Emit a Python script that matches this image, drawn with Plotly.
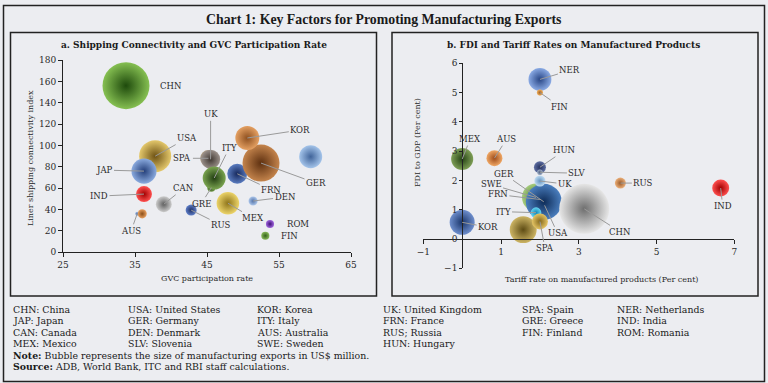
import plotly.graph_objects as go

W, H = 768, 383

# ---------------- Data: panel a (Shipping connectivity vs GVC participation) ----------------
a_codes = ["CHN", "USA", "JAP", "IND", "AUS", "", "CAN", "SPA", "UK", "GRE", "ITY",
           "FRN", "GER", "KOR", "NER", "DEN", "MEX", "RUS", "ROM", "FIN"]
a_gvc = [33.75, 37.8, 36.25, 36.25, 35.3, 36.0, 39.0, 45.2, 45.5, 45.6, 46.0,
         49.2, 52.5, 50.6, 59.4, 51.4, 47.9, 42.8, 53.75, 53.1]
a_lsci = [156, 90, 76, 54.5, 36, 36, 45, 88, 87, 60.5, 69.5,
          73.5, 83.5, 107, 89.5, 48, 46, 39.5, 26.5, 15.5]
a_exports = [2000000, 930000, 570000, 230000, 15000, 75000, 230000, 250000, 330000, 60000, 480000,
             360000, 1240000, 520000, 480000, 75000, 460000, 110000, 60000, 60000]

# ---------------- Data: panel b (FDI vs tariff) ----------------
b_codes = ["NER", "FIN", "MEX", "AUS", "HUN", "SLV", "SWE", "FRN", "USA", "GER", "UK",
           "ITY", "", "SPA", "KOR", "CHN", "RUS", "IND"]
b_tariff = [2.0, 2.0, 0.0, 0.83, 2.0, 2.0, 1.9, 2.0, 2.12, 2.1, 2.0,
            1.9, 1.57, 2.0, 0.0, 3.14, 4.07, 6.65]
b_fdi = [5.45, 5.0, 2.73, 2.76, 2.45, 2.28, 1.42, 1.35, 1.15, 1.27, 1.98,
         0.9, 0.32, 0.6, 0.57, 1.03, 1.91, 1.74]
b_exports = [420000, 30000, 390000, 205000, 115000, 25000, 630000, 300000, 330000, 1040000, 100000,
             90000, 580000, 205000, 500000, 2000000, 97000, 230000]

legend_cols = [
    ["CHN: China", "JAP: Japan", "CAN: Canada", "MEX: Mexico"],
    ["USA: United States", "GER: Germany", "DEN: Denmark", "SLV: Slovenia"],
    ["KOR: Korea", "ITY: Italy", "AUS: Australia", "SWE: Sweden"],
    ["UK: United Kingdom", "FRN: France", "RUS; Russia", "HUN: Hungary"],
    ["SPA: Spain", "GRE: Greece", "FIN: Finland"],
    ["NER: Netherlands", "IND: India", "ROM: Romania"],
]
note_text = "<b>Note:</b> Bubble represents the size of manufacturing exports in US$ million."
source_text = "<b>Source:</b> ADB, World Bank, ITC and RBI staff calculations."

# ---------------- Styles ----------------
# (center colour, edge colour) for sphere-like radial gradient
a_colors = [
    ("#86c052", "#1e4a0c"), ("#e4c86c", "#6e5214"), ("#8aaade", "#243f7a"), ("#ff5050", "#a00000"),
    ("#a8c0e6", "#4a6aa0"), ("#e8a060", "#8a4e18"), ("#cccccc", "#5e5e5e"), ("#b0a088", "#504030"),
    ("#9a908a", "#403832"), ("#70984a", "#244214"), ("#7aa450", "#223e12"), ("#5a7cc0", "#16285c"),
    ("#c4844c", "#5e3010"), ("#e4a062", "#8e5020"), ("#a4c4ea", "#40649a"), ("#acc6ea", "#5474aa"),
    ("#ecd46a", "#8e741a"), ("#5e7ec8", "#1e3066"), ("#a066dc", "#401078"), ("#88b85a", "#34621a"),
]
b_colors = [
    ("#8aaae4", "#284686"), ("#f0b060", "#a06020"), ("#7e9e56", "#244214"), ("#f0a866", "#9e4c1a"),
    ("#5e6ea2", "#24305e"), ("#a0b0c8", "#506080"), ("#a6cc7e", "#447224"), ("#5082c2", "#163670"),
    ("#447ab6", "#122f60"), ("#4a7ebe", "#0e2c58"), ("#c0dcf2", "#6494c2"),
    ("#66d4f0", "#1488b8"), ("#ccb464", "#5e4c14"), ("#e4c464", "#84681c"), ("#6e8ecc", "#18346a"),
    ("#e6e6e6", "#6e6e6e"), ("#ecb07a", "#9a5a2a"), ("#ff5050", "#a00000"),
]
# label offsets in pixels (dx, dy) and whether a leader line is drawn
a_labels = {
    "CHN": (45, 0, False), "USA": (32, -18, True), "JAP": (-40, -1, True), "IND": (-45, 2, True),
    "AUS": (-6, 17, True), "CAN": (20, -16, True), "SPA": (-26, 0, True), "UK": (0, -45, True),
    "GRE": (-10, 16, True), "ITY": (15, -30, True), "FRN": (34, 16, True), "GER": (55, 20, True),
    "KOR": (53, -8, True), "DEN": (32, -4, True), "MEX": (25, 15, True), "RUS": (30, 15, True),
    "ROM": (28, 0, False), "FIN": (24, 0, False),
}
b_labels = {
    "NER": (30, -9, True), "FIN": (20, 14, True), "MEX": (8, -20, True), "AUS": (12, -19, True),
    "HUN": (25, -17, True), "SLV": (37, 1, True), "UK": (25, 3, True), "SWE": (-45, -13, True),
    "GER": (-40, -28, True), "FRN": (-42, -5, True), "ITY": (-33, -1, True), "SPA": (5, 27, True),
    "KOR": (26, 5, True), "USA": (13, 28, True), "CHN": (36, 23, True), "RUS": (23, 0, True),
    "IND": (2, 18, True),
}

FONT = "DejaVu Serif"
BG = "#ECEDF1"
TXT = "#2a2a2a"


def px2x(px):
    return px / W


def px2y(py):
    return 1 - py / H


# axis domains from pixel layout
a_xdom = [px2x(63), px2x(351)]
a_ydom = [px2y(252.3), px2y(60)]
b_xdom = [px2x(423.3), px2x(734.3)]
b_ydom = [px2y(268.3), px2y(63.3)]
a_xr, a_yr = [25, 65], [0, 180]
b_xr, b_yr = [-1, 7], [-1, 6]

fig = go.Figure()


def add_bubbles(xs, ys, vals, colors, maxpx, xa, ya):
    sizeref = 2.0 * max(vals) / (maxpx ** 2)
    fig.add_trace(go.Scatter(
        x=xs, y=ys, mode="markers", xaxis=xa, yaxis=ya, hoverinfo="skip",
        marker=dict(
            size=vals, sizemode="area", sizeref=sizeref,
            color=[c[0] for c in colors],
            gradient=dict(type="radial", color=[c[1] for c in colors]),
            line=dict(width=0), opacity=1,
        ),
        showlegend=False,
    ))


add_bubbles(a_gvc, a_lsci, a_exports, a_colors, 47, "x", "y")
add_bubbles(b_tariff, b_fdi, b_exports, b_colors, 50, "x2", "y2")

annotations = []


def add_labels(codes, xs, ys, labels, xref, yref):
    for code, x, y in zip(codes, xs, ys):
        if code not in labels:
            continue
        dx, dy, line = labels[code]
        annotations.append(dict(
            x=x, y=y, xref=xref, yref=yref, text=code, showarrow=True,
            ax=dx, ay=dy, axref="pixel", ayref="pixel",
            arrowhead=0, arrowwidth=1, standoff=0, startstandoff=0,
            arrowcolor="#9a9a9a" if line else "rgba(0,0,0,0)",
            font=dict(family=FONT, size=8.5, color=TXT),
        ))


add_labels(a_codes, a_gvc, a_lsci, a_labels, "x", "y")
add_labels(b_codes, b_tariff, b_fdi, b_labels, "x2", "y2")


def ptext(px, py, text, size, family=FONT, color=TXT, xanchor="center", angle=0):
    annotations.append(dict(x=px2x(px), y=px2y(py), xref="paper", yref="paper", showarrow=False,
                            xanchor=xanchor, yanchor="middle", text=text, textangle=angle,
                            font=dict(family=family, size=size, color=color)))


# titles
ptext(384, 19.5, "<b>Chart 1: Key Factors for Promoting Manufacturing Exports</b>", 13.8,
      family="Liberation Serif", color="#1a1a1a")
ptext(193.5, 45, "<b>a. Shipping Connectivity and GVC Participation Rate</b>", 9, color="#1a1a1a")
ptext(573, 45, "<b>b. FDI and Tariff Rates on Manufactured Products</b>", 9, color="#1a1a1a")
# axis titles
ptext(207, 278, "GVC participation rate", 8)
ptext(30, 158, "Liner shipping connectivity index", 8, angle=-90)
ptext(601, 279, "Tariff rate on manufactured products (Per cent)", 8)
ptext(417, 143, "FDI to GDP (Per cent)", 8, angle=-90)

# country legend text
col_x = [11, 126, 255, 381, 520, 615]
row_y = [309, 320.5, 332, 343.5]
for cx, col in zip(col_x, legend_cols):
    for ry, t in zip(row_y, col):
        ptext(cx, ry, t, 9.4, color="#1a1a1a", xanchor="left")
ptext(11, 355, note_text, 9.4, color="#1a1a1a", xanchor="left")
ptext(11, 366.5, source_text, 9.4, color="#1a1a1a", xanchor="left")


def rect(x0, y0, x1, y1, w=1.5):
    return dict(type="rect", xref="paper", yref="paper", x0=px2x(x0), x1=px2x(x1),
                y0=px2y(y1), y1=px2y(y0), line=dict(color="#222222", width=w), fillcolor="rgba(0,0,0,0)",
                layer="below")


shapes = [rect(3.5, 5.5, 764.5, 381.5), rect(10.5, 32.5, 376.5, 296), rect(392, 32.5, 758, 296)]

tickfont = dict(family=FONT, size=9, color=TXT)
axis_common = dict(showgrid=False, zeroline=False, showline=True, linecolor="#222222", linewidth=1,
                   ticks="outside", tickcolor="#222222", tickfont=tickfont, fixedrange=True,
                   automargin=False)

x2_pos = b_ydom[0] + (0 - b_yr[0]) / (b_yr[1] - b_yr[0]) * (b_ydom[1] - b_ydom[0])
y2_pos = b_xdom[0] + (0 - b_xr[0]) / (b_xr[1] - b_xr[0]) * (b_xdom[1] - b_xdom[0])

fig.update_layout(
    template="none",
    width=W, height=H, autosize=False,
    margin=dict(l=0, r=0, t=0, b=0, pad=0),
    paper_bgcolor=BG, plot_bgcolor="rgba(0,0,0,0)",
    showlegend=False,
    xaxis=dict(domain=a_xdom, range=a_xr, anchor="y", tickvals=[25, 35, 45, 55, 65], ticklen=4,
               **axis_common),
    yaxis=dict(domain=a_ydom, range=a_yr, anchor="x", tickvals=list(range(0, 181, 20)), ticklen=4,
               **axis_common),
    xaxis2=dict(domain=b_xdom, range=b_xr, anchor="free", position=x2_pos, tickvals=[-1, 1, 3, 5, 7],
                ticklen=4, **axis_common),
    yaxis2=dict(domain=b_ydom, range=b_yr, anchor="free", position=y2_pos, tickvals=list(range(-1, 7)),
                ticklen=3, **axis_common),
    annotations=annotations,
    shapes=shapes,
)

fig.write_html("out.html", config={"displayModeBar": False},
               post_script="document.body.style.margin='0';document.body.style.overflow='hidden';")
